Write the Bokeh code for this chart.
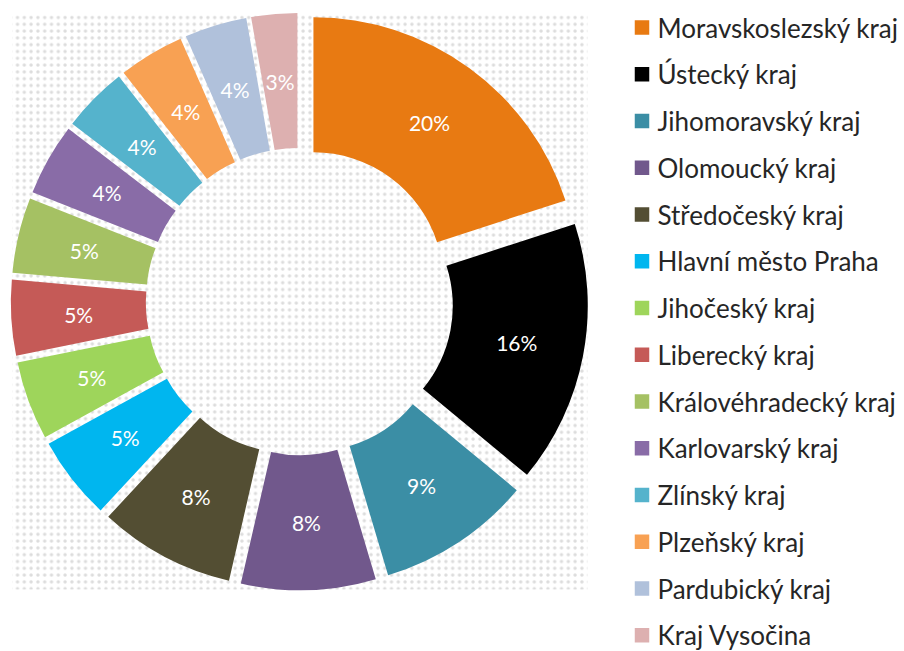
import math
from bokeh.plotting import figure
from bokeh.models import Range1d, ColumnDataSource
from bokeh.embed import file_html
from bokeh.resources import INLINE
from bokeh.core.properties import value

# ---------------- data ----------------
regions = [
    "Moravskoslezský kraj", "Ústecký kraj", "Jihomoravský kraj", "Olomoucký kraj",
    "Středočeský kraj", "Hlavní město Praha", "Jihočeský kraj", "Liberecký kraj",
    "Královéhradecký kraj", "Karlovarský kraj", "Zlínský kraj", "Plzeňský kraj",
    "Pardubický kraj", "Kraj Vysočina",
]
shares = [20.0, 16.0, 9.4, 8.2, 8.3, 5.1, 4.8, 4.6, 4.6, 4.4, 4.0, 4.0, 3.8, 2.8]
colors = [
    "#E87A12", "#000000", "#3B8EA5", "#71588C", "#534E33", "#00B6EF", "#9ED55B",
    "#C55A57", "#A5C163", "#896CA7", "#55B3CC", "#F8A153", "#B0C1DB", "#DDB0B0",
]

# ---------------- layout (page pixel coordinates) ----------------
W, H = 904, 651


def fy(page_y):
    return H - page_y


CX, CY = 299.0, fy(301.0)
R_OUT, R_IN = 265.0, 130.0
EXPLODE = 23.7

total = sum(shares)
pcts = [s / total * 100 for s in shares]
labels = [f"{int(math.floor(p + 0.5))}%" for p in pcts]

starts, ends, xs, ys, lx, ly = [], [], [], [], [], []
cum = 0.0
for p in pcts:
    t0 = cum / 100 * 2 * math.pi          # clockwise from 12 o'clock
    cum += p
    t1 = cum / 100 * 2 * math.pi
    tm = (t0 + t1) / 2
    starts.append(math.pi / 2 - t1)
    ends.append(math.pi / 2 - t0)
    x0 = CX + EXPLODE * math.sin(tm)
    y0 = CY + EXPLODE * math.cos(tm)
    xs.append(x0)
    ys.append(y0)
    rm = (R_OUT + R_IN) / 2
    lx.append(x0 + rm * math.sin(tm))
    ly.append(y0 + rm * math.cos(tm))

src = ColumnDataSource(dict(x=xs, y=ys, start=starts, end=ends, color=colors,
                            lx=lx, ly=ly, label=labels))

p = figure(width=W, height=H, output_backend="svg", toolbar_location=None,
           x_range=Range1d(0, W), y_range=Range1d(0, H),
           min_border=0, outline_line_color=None,
           x_axis_type=None, y_axis_type=None)
p.grid.visible = False
p.background_fill_color = "white"
p.border_fill_color = "white"

# dotted plot-area background
p.quad(left=[12], right=[587], top=[fy(15)], bottom=[fy(589)],
       fill_color="white", line_color=None,
       hatch_pattern="dot", hatch_color="#dcdcdc", hatch_scale=6.8, hatch_weight=0.2)

# exploded doughnut
p.annular_wedge(x="x", y="y", inner_radius=R_IN, outer_radius=R_OUT,
                start_angle="start", end_angle="end", direction="anticlock",
                fill_color="color", line_color=None, source=src)

p.text(x="lx", y="ly", text="label", source=src, text_align="center",
       text_baseline="middle", text_color="white",
       text_font=value("Lato"), text_font_size="21px")

# legend
row0, step = 27.0, 46.75
leg_y = [fy(row0 + i * step) for i in range(len(regions))]
leg = ColumnDataSource(dict(sx=[641.5] * len(regions), sy=leg_y,
                            tx=[657] * len(regions), name=regions, color=colors))
p.scatter(x="sx", y="sy", marker="square", size=14.5, fill_color="color",
          line_color=None, source=leg)
p.text(x="tx", y="sy", text="name", source=leg, text_align="left",
       text_baseline="middle", text_color="#262626",
       text_font=value("Lato"), text_font_size="26px")

open("out.html", "w").write(file_html(p, INLINE))
